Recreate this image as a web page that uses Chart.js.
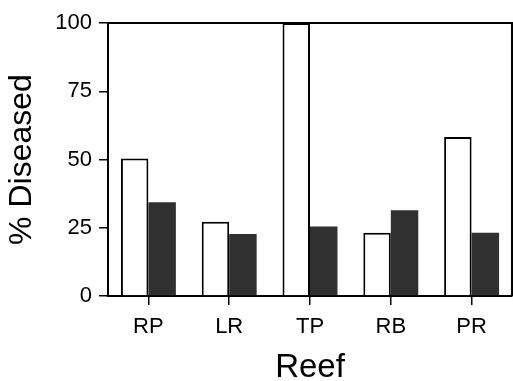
<!DOCTYPE html>
<html>
<head>
<meta charset="utf-8">
<script src="https://cdn.jsdelivr.net/npm/chart.js@4"></script>
<style>
  html, body { margin: 0; padding: 0; background: #fff; }
  #wrap { width: 513px; height: 381px; }
</style>
</head>
<body>
<div id="wrap"><canvas id="myChart" width="513" height="381"></canvas></div>
<script>
// data
const reefs = ["RP", "LR", "TP", "RB", "PR"];
const openBars = [50.4, 27.2, 100, 23.2, 58.2];
const darkBars = [34.3, 22.7, 25.5, 31.4, 23.2];
const yTicks = [0, 25, 50, 75, 100];

const fontFamily = "'Liberation Sans', Arial, sans-serif";

// closes the frame on top and right
const framePlugin = {
  id: 'frame',
  afterDatasetsDraw(chart) {
    const { ctx, chartArea: a } = chart;
    ctx.save();
    ctx.strokeStyle = '#000';
    ctx.lineWidth = 2;
    ctx.beginPath();
    ctx.moveTo(a.left, a.top);
    ctx.lineTo(a.right, a.top);
    ctx.lineTo(a.right, a.bottom);
    ctx.stroke();
    ctx.restore();
  }
};

new Chart(document.getElementById("myChart"), {
  type: 'bar',
  data: {
    labels: reefs,
    datasets: [
      {
        label: "open",
        data: openBars,
        backgroundColor: "#ffffff",
        borderColor: "#000000",
        borderWidth: 2
      },
      {
        label: "dark",
        data: darkBars,
        backgroundColor: "#303030",
        borderWidth: 0
      }
    ]
  },
  options: {
    responsive: false,
    animation: false,
    layout: { padding: { top: 23, right: 1, left: 0, bottom: 0 } },
    datasets: { bar: { categoryPercentage: 0.68, barPercentage: 1.0 } },
    plugins: {
      legend: { display: false },
      tooltip: { enabled: false }
    },
    scales: {
      x: {
        afterFit(scale) { scale.height = 85; },
        grid: { display: true, offset: false, drawOnChartArea: false, drawTicks: true,
                tickLength: 9, color: '#000', lineWidth: 1.5 },
        border: { display: true, color: '#000', width: 2 },
        ticks: { color: '#000', padding: 9, font: { family: fontFamily, size: 22 } },
        title: { display: true, text: 'Reef', color: '#000',
                 font: { family: fontFamily, size: 33, lineHeight: 0.8 },
                 padding: { top: 0, bottom: 0 } }
      },
      y: {
        min: 0,
        max: 100,
        afterFit(scale) { scale.width = 108; },
        afterBuildTicks(scale) { scale.ticks = yTicks.map(v => ({ value: v })); },
        grid: { display: true, drawOnChartArea: false, drawTicks: true,
                tickLength: 9, color: '#000', lineWidth: 1.5 },
        border: { display: true, color: '#000', width: 2 },
        ticks: { color: '#000', padding: 7, font: { family: fontFamily, size: 22 } },
        title: { display: true, text: '% Diseased', color: '#000',
                 font: { family: fontFamily, size: 32, lineHeight: 1.2 },
                 padding: { top: 3, bottom: 0 } }
      }
    }
  },
  plugins: [framePlugin]
});
</script>
</body>
</html>
